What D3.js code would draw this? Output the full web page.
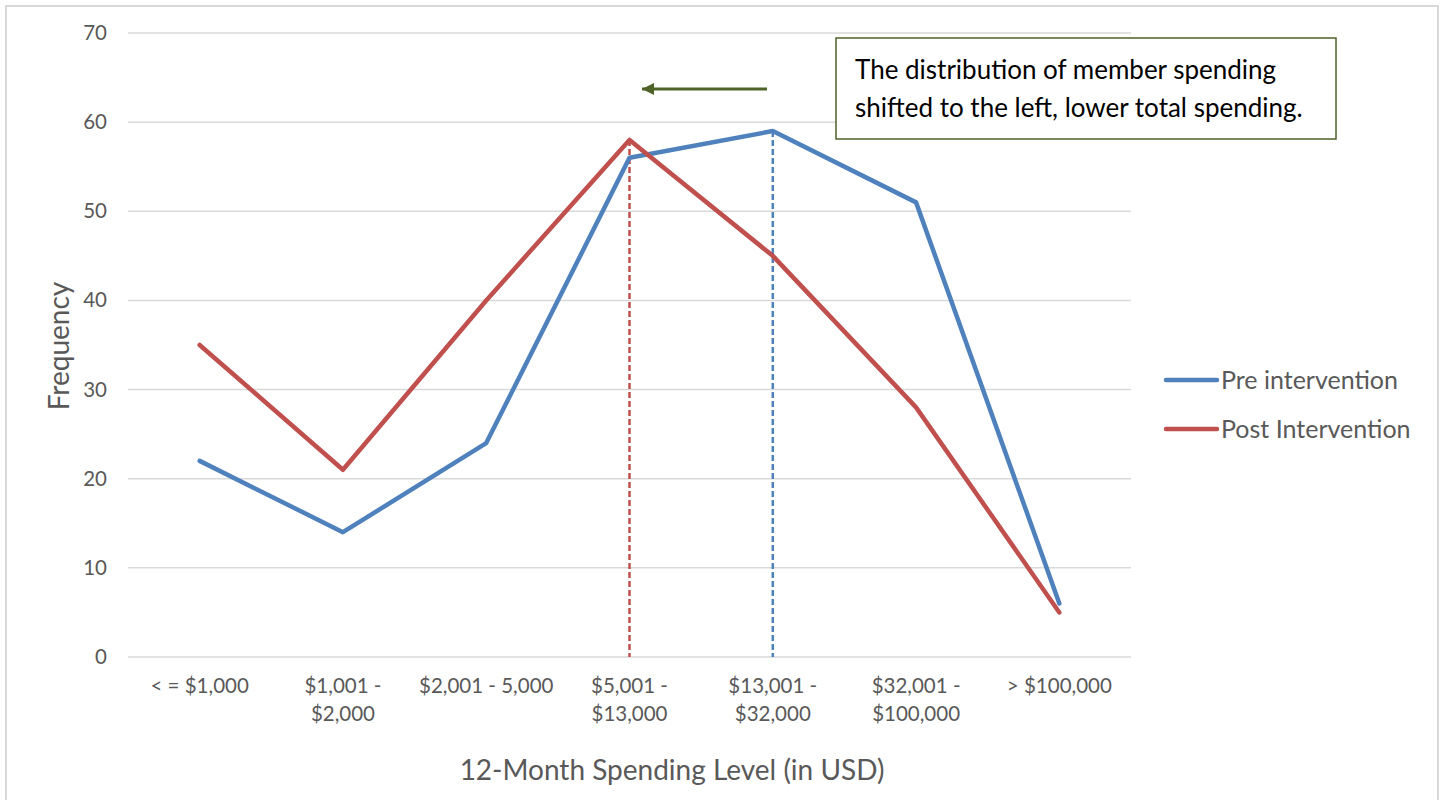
<!DOCTYPE html>
<html>
<head>
<meta charset="utf-8">
<script src="https://cdn.jsdelivr.net/npm/d3@7"></script>
<style>
  body { margin: 0; background: #fff; }
  text { font-family: Lato, "Open Sans", sans-serif; }
</style>
</head>
<body>
<svg id="chart" width="1447" height="800"></svg>
<script>
var categories = ["< = $1,000", "$1,001 -|$2,000", "$2,001 - 5,000", "$5,001 -|$13,000",
                  "$13,001 -|$32,000", "$32,001 -|$100,000", "> $100,000"];
var preValues = [22, 14, 24, 56, 59, 51, 6];
var postValues = [35, 21, 40, 58, 45, 28, 5];
var yTicks = [0, 10, 20, 30, 40, 50, 60, 70];
var seriesNames = ["Pre intervention", "Post Intervention"];
var seriesColors = ["#4f81bd", "#c0504d"];
var preMarker = "$13,001 -|$32,000";   // peak bin before
var postMarker = "$5,001 -|$13,000";   // peak bin after
var noteLines = ["The distribution of member spending", "shifted to the left, lower total spending."];

var svg = d3.select("#chart");

// chart area frame
svg.append("rect")
    .attr("x", 6).attr("y", 6).attr("width", 1432).attr("height", 800)
    .attr("fill", "none").attr("stroke", "#d9d9d9").attr("stroke-width", 2);

var x = d3.scaleBand().domain(categories).range([128, 1131]);
var y = d3.scaleLinear().domain([0, 70]).range([657, 33]);
var cx = function(c) { return x(c) + x.bandwidth() / 2; };

// gridlines
svg.append("g").selectAll("line").data(yTicks).join("line")
    .attr("x1", 128).attr("x2", 1131)
    .attr("y1", function(d) { return y(d); }).attr("y2", function(d) { return y(d); })
    .attr("stroke", "#d9d9d9").attr("stroke-width", 1.5);

// y axis labels
var yAxis = svg.append("g").attr("transform", "translate(107,0)")
    .call(d3.axisLeft(y).tickValues(yTicks).tickSize(0).tickPadding(0));
yAxis.select(".domain").remove();
yAxis.selectAll("text").attr("font-size", 20.5).attr("fill", "#595959")
    .attr("font-family", "Lato, sans-serif");

// x axis labels (two-line)
var xAxis = svg.append("g").attr("transform", "translate(0,657)")
    .call(d3.axisBottom(x).tickSize(0).tickFormat(""));
xAxis.select(".domain").remove();
xAxis.selectAll(".tick").each(function(d) {
    var t = d3.select(this).append("text")
        .attr("fill", "#595959").attr("font-size", 20.5).attr("text-anchor", "middle");
    d.split("|").forEach(function(part, i) {
        t.append("tspan").attr("x", 0).attr("y", 36 + i * 28).text(part);
    });
});

// axis titles
svg.append("text")
    .attr("transform", "translate(69,346) rotate(-90)")
    .attr("text-anchor", "middle").attr("font-size", 28).attr("fill", "#595959")
    .text("Frequency");
svg.append("text")
    .attr("x", 672).attr("y", 780)
    .attr("text-anchor", "middle").attr("font-size", 28).attr("fill", "#595959")
    .text("12-Month Spending Level (in USD)");

// dashed peak markers
var markers = [
    { cat: postMarker, value: postValues[categories.indexOf(postMarker)], color: seriesColors[1] },
    { cat: preMarker, value: preValues[categories.indexOf(preMarker)], color: seriesColors[0] }
];
svg.append("g").selectAll("line").data(markers).join("line")
    .attr("x1", function(d) { return cx(d.cat); }).attr("x2", function(d) { return cx(d.cat); })
    .attr("y1", function(d) { return y(d.value); }).attr("y2", y(0))
    .attr("stroke", function(d) { return d.color; })
    .attr("stroke-width", 2.5).attr("stroke-dasharray", "6,3");

// series lines
var line = d3.line()
    .x(function(d, i) { return cx(categories[i]); })
    .y(function(d) { return y(d); });
svg.append("g").selectAll("path").data([preValues, postValues]).join("path")
    .attr("d", line)
    .attr("fill", "none")
    .attr("stroke", function(d, i) { return seriesColors[i]; })
    .attr("stroke-width", 4.5)
    .attr("stroke-linejoin", "round").attr("stroke-linecap", "round");

// legend
var legend = svg.append("g").selectAll("g").data(seriesNames).join("g")
    .attr("transform", function(d, i) { return "translate(1166," + (380 + i * 49) + ")"; });
legend.append("line")
    .attr("x1", 0).attr("x2", 51)
    .attr("stroke", function(d, i) { return seriesColors[i]; })
    .attr("stroke-width", 4.5).attr("stroke-linecap", "round");
legend.append("text")
    .attr("x", 55).attr("dy", "0.35em")
    .attr("font-size", 25).attr("fill", "#595959")
    .text(function(d) { return d; });

// arrow annotation
svg.append("defs").append("marker")
    .attr("id", "head").attr("viewBox", "0 0 10 10")
    .attr("refX", 10).attr("refY", 5)
    .attr("markerWidth", 4.5).attr("markerHeight", 4)
    .attr("orient", "auto")
    .append("path").attr("d", "M0,0L10,5L0,10z").attr("fill", "#4f6228");
svg.append("line")
    .attr("x1", 767).attr("x2", 642).attr("y1", 89).attr("y2", 89)
    .attr("stroke", "#4f6228").attr("stroke-width", 3)
    .attr("marker-end", "url(#head)");

// note box
svg.append("rect")
    .attr("x", 836).attr("y", 38).attr("width", 500).attr("height", 101)
    .attr("fill", "#fff").attr("stroke", "#4f6228").attr("stroke-width", 1.5);
svg.append("g").selectAll("text").data(noteLines).join("text")
    .attr("x", 855).attr("y", function(d, i) { return 79 + i * 38; })
    .attr("font-size", 26).attr("fill", "#000")
    .text(function(d) { return d; });
</script>
</body>
</html>
